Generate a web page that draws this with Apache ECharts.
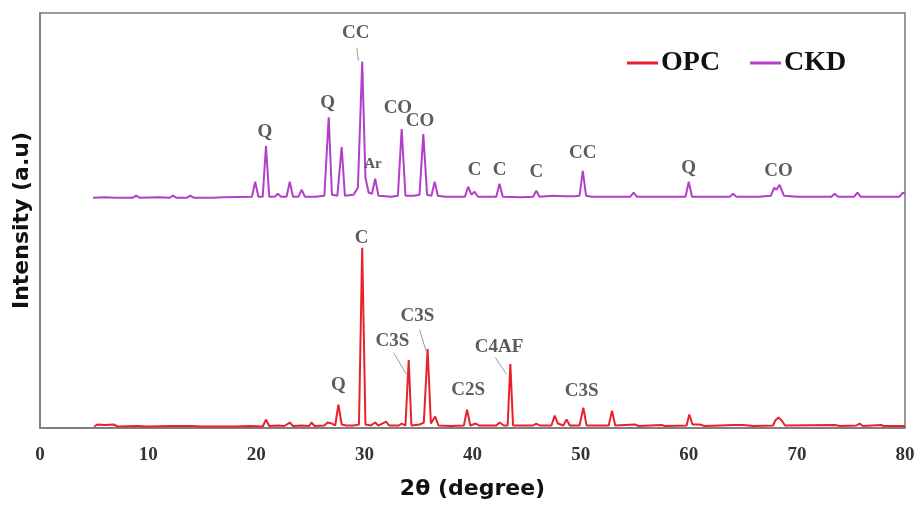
<!DOCTYPE html>
<html>
<head>
<meta charset="utf-8">
<script src="https://cdn.jsdelivr.net/npm/echarts@6/dist/echarts.min.js"></script>
<style>html,body{margin:0;padding:0;background:#fff;}#c{width:920px;height:505px;}</style>
</head>
<body>
<div id="c"></div>
<script>
// ---- Data (2θ in degrees, intensity in arbitrary units) ----
const xTicks = [0, 10, 20, 30, 40, 50, 60, 70, 80];

// OPC pattern: [2θ, intensity]
const opcPattern = [
  [5.0,0],[5.3,2],[6.0,1.5],[6.8,2],[7.2,0],[9.0,0.5],[10.0,0],[12.3,0.5],[14.0,0.5],[15.0,0],
  [18.0,0],[19.5,0.5],[20.6,0],[20.9,7],[21.2,0.5],[22.0,1],[22.6,0.5],[23.1,4],[23.4,0.5],
  [24.2,1],[24.9,0.5],[25.1,4],[25.4,0.5],[26.3,1],[26.6,4],[27.0,3],[27.3,1],[27.6,22],[27.9,2],
  [28.3,1],[29.0,1],[29.5,2],[29.8,180],[30.1,2],[30.6,1],[31.0,4],[31.3,1],[32.0,5],[32.3,1],
  [33.2,1],[33.45,3],[33.8,1],[34.1,67],[34.35,1],[35.1,2],[35.5,4],[35.85,78],[36.15,3],
  [36.55,10],[36.85,1],[38.0,0.5],[39.2,1],[39.5,17],[39.8,1],[40.3,3],[40.6,1],[42.2,1],
  [42.5,4],[42.9,1],[43.25,1],[43.5,63],[43.75,1],[45.6,1],[45.9,3],[46.2,1],[47.3,1],[47.6,11],
  [47.9,3],[48.4,1],[48.7,7],[49.0,1],[49.9,1],[50.25,19],[50.55,1],[52.6,1],[52.9,16],[53.2,1],
  [55.0,2],[55.4,0.5],[57.5,1.5],[57.8,0.5],[59.8,1],[60.05,12],[60.35,2],[61.0,2],[61.5,0.5],
  [64.2,1.5],[65.0,1.5],[66.0,0.5],[67.8,1],[68.0,6],[68.3,9],[68.6,6],[68.9,1],[73.5,1.5],
  [74.0,0.5],[75.5,1],[75.8,3],[76.1,0.5],[77.8,1.5],[78.0,0.5],[80.0,0.5]
];

// CKD pattern: [2θ, intensity above its own baseline]
const ckdPattern = [
  [4.9,0],[6.0,0.5],[7.0,0],[8.6,0],[8.9,2],[9.2,0],[11.0,0.5],[12.0,0],[12.3,2],[12.6,0],
  [13.6,0],[13.9,2],[14.2,0],[16.0,0],[17.0,0.5],[19.6,1],[19.9,16],[20.2,1],[20.6,1],[20.9,52],
  [21.2,1],[21.7,1],[22.0,4],[22.3,1],[22.8,1],[23.1,16],[23.4,1],[23.9,1],[24.2,8],[24.5,1],
  [25.5,1],[26.3,2],[26.7,81],[27.0,3],[27.5,2],[27.9,51],[28.2,2],[29.0,3],[29.4,10],[29.8,137],
  [30.1,20],[30.4,5],[30.7,4],[31.0,19],[31.3,2],[32.5,1],[33.1,2],[33.45,69],[33.8,2],[34.6,2],
  [35.1,3],[35.45,64],[35.8,3],[36.2,2],[36.5,16],[36.8,2],[37.5,1],[39.3,1],[39.6,11],[39.9,3],
  [40.2,6],[40.5,1],[42.2,1],[42.5,14],[42.8,1],[44.5,0.5],[45.6,1],[45.9,7],[46.2,1],[47.5,2],
  [48.5,1.5],[49.5,1.5],[49.9,2],[50.2,27],[50.5,2],[51.0,1],[54.6,1],[54.9,5],[55.2,1],[59.7,1],
  [60.0,16],[60.3,1],[63.8,1],[64.1,4],[64.4,1],[66.5,1],[67.6,2],[67.9,10],[68.1,8],[68.4,13],
  [68.8,2],[70.0,1],[73.2,1],[73.5,4],[73.8,1],[75.3,1],[75.6,5],[75.9,1],[77.5,1],[79.5,1],
  [79.8,5],[80.0,4]
];

// Phase labels: [2θ, intensity, text]
const ckdLabels = [
  [20.8,298,'Q'],[26.6,327,'Q'],[29.2,398,'CC'],[33.1,322,'CO'],[35.15,309,'CO'],
  [30.8,266,'Ar'],[40.2,260,'C'],[42.5,260,'C'],[45.9,258,'C'],[50.2,277,'CC'],
  [60.0,262,'Q'],[68.3,259,'CO']
];
const opcLabels = [
  [29.75,191,'C'],[27.6,43,'Q'],[32.6,88,'C3S'],[34.9,113,'C3S'],[39.6,38,'C2S'],
  [42.45,81,'C4AF'],[50.1,37,'C3S']
];
// Leader lines from label to peak: [[2θ1, I1], [2θ2, I2]]
const leaders = [
  [[29.3,383],[29.45,370]],
  [[32.7,76],[33.9,54]],
  [[35.1,99],[35.75,76]],
  [[42.1,71],[43.15,54]]
];

// ---- Display settings ----
const opcBase = 1.5;   // vertical position of the OPC trace baseline
const ckdBase = 232;   // vertical offset of the stacked CKD trace

const chart = echarts.init(document.getElementById('c'), null, {renderer: 'canvas'});
const serif = 'Liberation Serif, Times New Roman, serif';
const sans = 'DejaVu Sans, sans-serif';

const labelSeries = (arr, size) => ({
  type: 'scatter',
  data: arr.map(d => ({value: [d[0], d[1]], name: d[2],
    label: d[2] === 'Ar' ? {fontSize: 15} : undefined})),
  symbol: 'circle',
  symbolSize: 2,
  itemStyle: {color: 'rgba(255,255,255,0)'},
  silent: true,
  z: 5,
  label: {
    show: true, position: 'inside', formatter: p => p.name,
    fontFamily: serif, fontSize: size, fontWeight: 'bold', color: '#333',
    textBorderWidth: 0
  }
});

chart.setOption({
  animation: false,
  grid: {left: 40, right: 15, top: 13, bottom: 74, show: true, borderColor: '#7a7a7a', borderWidth: 1.5, backgroundColor: 'transparent'},
  legend: {
    data: [
      {name: 'OPC', icon: 'rect'},
      {name: 'CKD', icon: 'rect'}
    ],
    left: 622, top: 44, itemWidth: 31, itemHeight: 3, itemGap: 30,
    textStyle: {fontFamily: serif, fontSize: 28, fontWeight: 'bold', color: '#111', padding: [0,0,0,-2]}
  },
  xAxis: {
    type: 'value', min: xTicks[0], max: xTicks[xTicks.length - 1], interval: 10,
    axisLine: {show: true, lineStyle: {color: '#7a7a7a', width: 1.5}},
    axisTick: {show: false}, splitLine: {show: false},
    axisLabel: {fontFamily: serif, fontSize: 19, fontWeight: 'bold', color: '#333', margin: 18},
    name: '2θ (degree)', nameLocation: 'middle', nameGap: 50,
    nameTextStyle: {fontFamily: sans, fontSize: 22, fontWeight: 'bold', color: '#111'}
  },
  yAxis: {
    type: 'value', min: 0, max: 418,
    axisLine: {show: true, lineStyle: {color: '#7a7a7a', width: 1.5}},
    axisTick: {show: false}, axisLabel: {show: false}, splitLine: {show: false},
    name: 'Intensity (a.u)', nameLocation: 'middle', nameGap: 7,
    nameTextStyle: {fontFamily: sans, fontSize: 22, fontWeight: 'bold', color: '#111'}
  },
  series: [
    {
      name: 'OPC', type: 'line', symbol: 'none', z: 3,
      data: opcPattern.map(d => [d[0], opcBase + d[1]]),
      lineStyle: {color: '#e8212b', width: 2}, itemStyle: {color: '#e8212b'}
    },
    {
      name: 'CKD', type: 'line', symbol: 'none', z: 3,
      data: ckdPattern.map(d => [d[0], ckdBase + d[1]]),
      lineStyle: {color: '#b23fc9', width: 2}, itemStyle: {color: '#b23fc9'}
    },
    {
      type: 'lines', coordinateSystem: 'cartesian2d', silent: true, z: 4,
      data: leaders.map(l => ({coords: l})),
      lineStyle: {color: '#999', width: 1, opacity: 1}
    },
    labelSeries(ckdLabels, 19),
    labelSeries(opcLabels, 19)
  ]
});
</script>
</body>
</html>
